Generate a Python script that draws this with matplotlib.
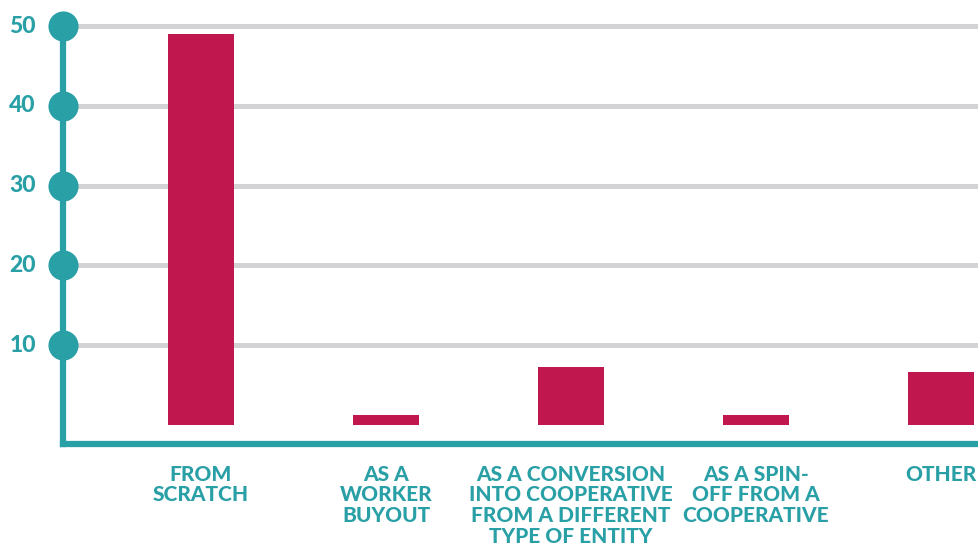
import matplotlib.pyplot as plt

# Origin of new cooperatives
categories = [
    "FROM\nSCRATCH",
    "AS A\nWORKER\nBUYOUT",
    "AS A CONVERSION\nINTO COOPERATIVE\nFROM A DIFFERENT\nTYPE OF ENTITY",
    "AS A SPIN-\nOFF FROM A\nCOOPERATIVE",
    "OTHER",
]
values = [49.0, 1.3, 7.3, 1.3, 6.7]
ticks = [10, 20, 30, 40, 50]

TEAL = "#299fa6"
CRIMSON = "#c0174f"
GRID = "#d3d3d5"

plt.rcParams['font.family'] = ['Lato', 'DejaVu Sans']

fig = plt.figure(figsize=(9.79, 5.47), dpi=100)
ax = fig.add_axes([0, 0, 1, 1])
ax.set_xlim(-1.086, 4.205)
ax.set_ylim(-15.29, 53.26)
ax.axis('off')

x = list(range(len(categories)))
axis_x = -0.746
base_y = -2.38

# grid lines from the y axis to the right edge
for t in ticks:
    ax.plot([axis_x, 4.3], [t, t], color=GRID, lw=3.6, zorder=1,
            solid_capstyle='butt')

ax.bar(x, values, width=0.357, color=CRIMSON, zorder=2)

# axis lines
ax.plot([axis_x, axis_x], [base_y, 50], color=TEAL, lw=4.5, zorder=3,
        solid_capstyle='projecting')
ax.plot([axis_x, 4.3], [base_y, base_y], color=TEAL, lw=4.5, zorder=3,
        solid_capstyle='projecting')
ax.scatter([axis_x] * len(ticks), ticks, s=470, color=TEAL, zorder=4,
           linewidths=0)

for t in ticks:
    ax.text(-0.892, t, str(t), ha='right', va='center', color=TEAL,
            fontsize=16.5, fontweight='black')

for xi, label in zip(x, categories):
    ax.text(xi, -5.0, label, ha='center', va='top', color=TEAL,
            fontsize=15, fontweight='black', linespacing=1.1,
            multialignment='center')

fig.savefig("out.png", dpi=100)
